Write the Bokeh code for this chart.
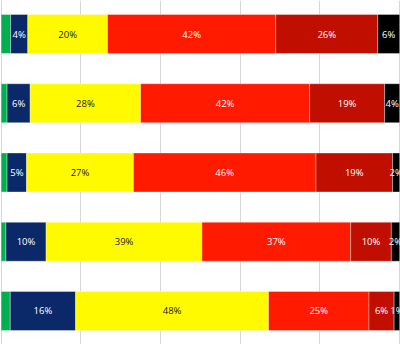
from bokeh.plotting import figure
from bokeh.models import ColumnDataSource, Range1d, FixedTicker
from bokeh.core.properties import value
from bokeh.embed import file_html
from bokeh.resources import INLINE

rows = [0, 1, 2, 3, 4]
series_names = ["green", "blue", "yellow", "red", "darkred", "black"]
green = [2.4, 1.5, 1.5, 1.2, 2.3]
blue = [4.3, 5.8, 4.9, 10.1, 16.4]
yellow = [20.0, 27.7, 26.8, 39.1, 48.4]
red = [42.2, 42.4, 45.8, 37.3, 25.2]
darkred = [25.6, 18.8, 19.2, 10.2, 6.3]
black = [5.5, 3.8, 1.8, 2.1, 1.4]
series = [green, blue, yellow, red, darkred, black]
colors = ["#00B050", "#0B2868", "#FFFA00", "#FF1A00", "#C00F00", "#000000"]
label_colors = [None, "white", "#1a1a1a", "white", "white", "white"]
gridline_ticks = [0, 20, 40, 60, 80, 100]

p = figure(width=400, height=344, output_backend="svg", toolbar_location=None,
           x_range=Range1d(-0.15, 100.2), y_range=Range1d(4.484, -0.484),
           min_border=0, outline_line_color=None)
p.xaxis.visible = False
p.yaxis.visible = False
p.ygrid.visible = False
p.xgrid.ticker = FixedTicker(ticks=gridline_ticks)
p.xgrid.grid_line_color = "#d6d6d6"
p.xgrid.grid_line_width = 1

left = [0.0] * len(rows)
for vals, col, lcol in zip(series, colors, label_colors):
    right = [l + v for l, v in zip(left, vals)]
    src = ColumnDataSource(dict(
        y=rows, left=left, right=right,
        mid=[(l + r) / 2 for l, r in zip(left, right)],
        label=[f"{round(v)}%" for v in vals],
    ))
    p.hbar(y="y", left="left", right="right", height=0.563, source=src,
           fill_color=col, line_color="white", line_alpha=0.35, line_width=1)
    if lcol is not None:
        p.text(x="mid", y="y", text="label", source=src, text_align="center",
               text_baseline="middle", text_color=lcol,
               text_font=value("Open Sans"), text_font_size="9.5px")
    left = right

open("out.html", "w").write(file_html(p, INLINE))
